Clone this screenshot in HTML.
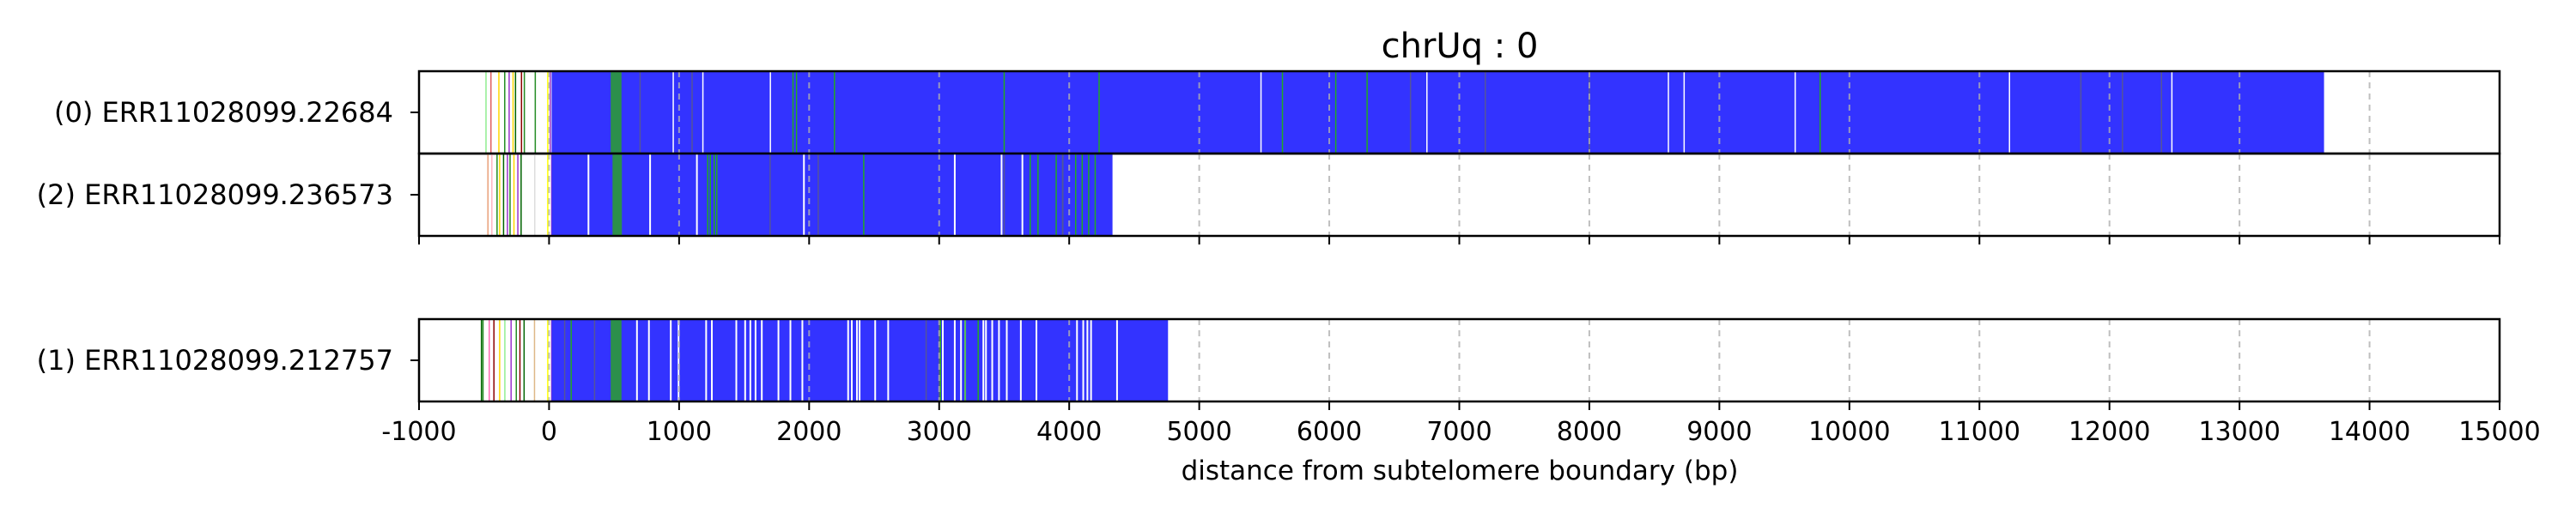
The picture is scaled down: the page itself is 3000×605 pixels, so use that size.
<!DOCTYPE html>
<html><head><meta charset="utf-8"><style>
html,body{margin:0;padding:0;background:#fff;}
svg text{font-family:"DejaVu Sans","Liberation Sans",sans-serif;fill:#000;}
</style></head><body>
<svg id="chart" width="3000" height="600" viewBox="0 0 3000 600" xmlns="http://www.w3.org/2000/svg">
<text x="1700" y="67" font-size="40" text-anchor="middle">chrUq : 0</text>
<text x="1700" y="559" font-size="31" text-anchor="middle">distance from subtelomere boundary (bp)</text>
<g id="panels"></g>
<g id="axis"></g>
</svg>
<script>
const xTicks = [-1000,0,1000,2000,3000,4000,5000,6000,7000,8000,9000,10000,11000,12000,13000,14000,15000];
const readLabels = ["(0) ERR11028099.22684","(2) ERR11028099.236573","(1) ERR11028099.212757"];
const readStarts = [20, 20, 20];
const readEnds = [13650, 4333, 4760];
const preLines0 = [-485,-447,-386,-341,-307,-277,-258,-212,-190,-106,-10,10,30,60];
const preColors0 = ["#90ee90","#e06060","#ffd700","#228b22","#9932cc","#ffd700","#006400","#8b0000","#228b22","#228b22","#ffff00","#9932cc","#ff69b4","#228b22"];
const preLines1 = [-520,-508,-460,-424,-380,-340,-292,-252,-224,-192,-112,-10,20,50];
const preColors1 = ["#006400","#228b22","#ff69b4","#8b0000","#ffd700","#90ee90","#9932cc","#228b22","#8b0000","#006400","#deb887","#ffff00","#9932cc","#ff69b4"];
const preLines2 = [-470,-440,-400,-380,-350,-320,-300,-270,-240,-215,-110,-10,20,50];
const preColors2 = ["#e9a07a","#ffb6c1","#228b22","#ffd700","#006400","#9932cc","#228b22","#ffd700","#9932cc","#006400","#ddd","#ffff00","#9932cc","#ff69b4"];
const bands = [[474,557],[488,560],[474,557]];
const white0 = [955,1183,1702,6751,8608,8729,9583,11231,12480,5475];
const white1 = [676,768,936,996,1208,1252,1440,1508,1548,1588,1636,1764,1856,1948,2300,2328,2368,2388,2508,2608,3028,3120,3168,3200,3340,3360,3408,3460,3520,3628,3748,4060,4108,4140,4168,4368];
const white2 = [303,777,1137,1960,3120,3480,3640];
const green0 = [1876,1903,2195,5640,6050,6291,9775,3500,4230];
const green1 = [170,3010,3200,3300];
const green2 = [1220,1240,1270,1290,3700,3760,3900,3950,4050,4100,4150,4200,2420];
const dark0 = [700,1100,6625,7200,8000,11780,12100,12400];
const dark1 = [120,350,2900,3000];
const dark2 = [1700,2070,3500,3950];

const X0=488, X1=2911, DMIN=-1000, DMAX=15000;
function xs(v){return X0+(v-DMIN)/(DMAX-DMIN)*(X1-X0);}
const panelTops=[83,179,372], PH=96;
const NS="http://www.w3.org/2000/svg";
const panels=document.getElementById('panels'), axis=document.getElementById('axis');
function mk(tag,attrs,parent){const e=document.createElementNS(NS,tag);for(const k in attrs)e.setAttribute(k,attrs[k]);parent.appendChild(e);return e;}
const pre=[preLines0,preLines2,preLines1], preC=[preColors0,preColors2,preColors1];
const whites=[white0,white2,white1], greens=[green0,green2,green1], darks=[dark0,dark2,dark1];
[0,1,2].forEach(i=>{
  const top=panelTops[i];
  const g=mk('g',{},panels);
  
  
  pre[i].forEach((p,j)=>{
    const l=mk('line',{x1:xs(p),x2:xs(p),y1:top,y2:top+PH,stroke:preC[i][j],'stroke-width':1.5},g);
    
    
  });
  const r=mk('rect',{x:xs(readStarts[i]),y:top,width:xs(readEnds[i])-xs(readStarts[i]),height:PH,fill:'#3333ff'},g);
  
  
  const b=bands[i];
  const br=mk('rect',{x:xs(b[0]),y:top,width:xs(b[1])-xs(b[0]),height:PH,fill:'#2ca02c',opacity:0.85},g);
  
  
  whites[i].forEach(p=>{const l=mk('line',{x1:xs(p),x2:xs(p),y1:top,y2:top+PH,stroke:'#ffffff','stroke-width':(i===0?1.5:2)},g);
    
    });
  greens[i].forEach(p=>{const l=mk('line',{x1:xs(p),x2:xs(p),y1:top,y2:top+PH,stroke:'#22aa22','stroke-width':1.5},g);
    
    });
  darks[i].forEach(p=>{const l=mk('line',{x1:xs(p),x2:xs(p),y1:top,y2:top+PH,stroke:'#555599','stroke-width':1.5},g);
    
    });
  xTicks.forEach(t=>{const l=mk('line',{x1:xs(t),x2:xs(t),y1:top,y2:top+PH,stroke:'#b0b0b0','stroke-width':2,'stroke-dasharray':'7,6',opacity:0.8},g);
    
    });
  const f=mk('rect',{x:X0,y:top,width:X1-X0,height:PH,fill:'none',stroke:'#000','stroke-width':2.5},g);
  
  
  const cy=top+PH/2;
  const tk=mk('line',{x1:X0-10,x2:X0,y1:cy,y2:cy,stroke:'#000','stroke-width':2},g);
  
  
  const tx=mk('text',{x:X0-30,y:cy+11,'font-size':32,'text-anchor':'end'},g);
  tx.textContent=readLabels[i];
  
  
});
[275,468].forEach(yb=>{
  xTicks.forEach(t=>{const l=mk('line',{x1:xs(t),x2:xs(t),y1:yb,y2:yb+10,stroke:'#000','stroke-width':2},axis);
    
    });
});
xTicks.forEach(t=>{const tx=mk('text',{x:xs(t),y:513,'font-size':30,'text-anchor':'middle'},axis);
  tx.textContent=String(t);
  
  });
</script>
</body></html>
